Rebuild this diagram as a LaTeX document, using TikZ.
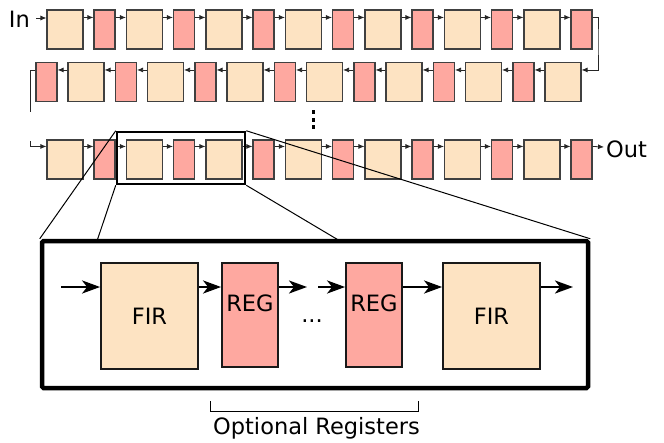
\documentclass[tikz,border=0pt]{standalone}
\usepackage{fontspec}
\setmainfont{DejaVu Sans}
\usetikzlibrary{arrows.meta}
\definecolor{firc}{HTML}{FDE3C2}
\definecolor{regc}{HTML}{FEA8A0}
\tikzset{
  fsmall/.style={draw=black!75, line width=1.1pt, fill=firc, minimum width=36pt, minimum height=39pt, inner sep=0pt},
  rsmall/.style={draw=black!75, line width=1.1pt, fill=regc, minimum width=21pt, minimum height=39pt, inner sep=0pt},
  sarr/.style={-{Latex[length=6pt,width=5pt]}, line width=0.8pt, black!85},
  sline/.style={line width=0.8pt, black!85},
  fbig/.style={draw=black!90, line width=1.8pt, fill=firc, minimum width=97pt, minimum height=106pt, inner sep=0pt},
  rbig/.style={draw=black!90, line width=1.8pt, fill=regc, minimum width=56pt, minimum height=104pt, inner sep=0pt},
  barr/.style={-{Stealth[length=18pt,width=13pt,inset=5pt]}, line width=2.5pt},
  txt/.style={font=\fontsize{22.5pt}{26pt}\selectfont, inner sep=0pt},
  zline/.style={line width=1pt},
}
\begin{document}
\begin{tikzpicture}[x=1pt,y=-1pt]
\useasboundingbox (0,0) rectangle (664,442);
\foreach \i in {1,...,7} {
  \node[fsmall] (r1f\i) at ({65+79.5*(\i-1)},29.5) {};
  \node[rsmall] (r1r\i) at ({104.5+79.5*(\i-1)},29.5) {};
  \node[fsmall] (r3f\i) at ({65+79.5*(\i-1)},159.5) {};
  \node[rsmall] (r3r\i) at ({104.5+79.5*(\i-1)},159.5) {};
  \node[fsmall] (r2f\i) at ({563-79.5*(\i-1)},82) {};
  \node[rsmall] (r2r\i) at ({523.5-79.5*(\i-1)},82) {};
}
\foreach \i in {1,...,7} {
  \draw[sarr] ([yshift=-8pt]r1f\i.north east) -- ([yshift=-8pt]r1r\i.north west);
  \draw[sarr] ([yshift=-7pt]r3f\i.north east) -- ([yshift=-7pt]r3r\i.north west);
  \draw[sarr] ([yshift=-8pt]r2f\i.north west) -- ([yshift=-8pt]r2r\i.north east);
}
\foreach \i in {1,...,6} {
  \pgfmathtruncatemacro\j{\i+1}
  \draw[sarr] ([yshift=-8pt]r1r\i.north east) -- ([yshift=-8pt]r1f\j.north west);
  \draw[sarr] ([yshift=-7pt]r3r\i.north east) -- ([yshift=-7pt]r3f\j.north west);
  \draw[sarr] ([yshift=-8pt]r2r\i.north west) -- ([yshift=-8pt]r2f\j.north east);
}
% In / Out
\node[txt, anchor=base east] (in) at (30,27) {In};
\coordinate (ins) at (36,18);
\draw[sarr] (ins) -- (ins -| r1f1.west);
\node[txt, anchor=base west] (out) at (606,157) {Out};
\coordinate (oute) at (604,147);
\draw[sarr] ([yshift=-7pt]r3r7.north east) -- (oute);
% wraps
\coordinate (c1) at (598,40);
\draw[sarr] ([yshift=-8pt]r1r7.north east) -| (c1) |- ([yshift=-8pt]r2f1.north east);
\coordinate (e2) at (30,112);
\draw[sline] ([yshift=-8pt]r2r7.north west) -| (e2);
\coordinate (s3) at (30,141);
\draw[sarr] (s3) |- ([yshift=-7pt]r3f1.north west);
% vertical dots
\foreach \y in {110,117.5,125} \fill (311.5,\y) rectangle ++(3.8,4.2);
% highlight box
\node[draw, line width=2.5pt, minimum width=128pt, minimum height=52pt, inner sep=0pt] (hl) at (181,158) {};
% big box
\node[draw, line width=4.5pt, rounded corners=1.5pt, minimum width=546pt, minimum height=147pt, inner sep=0pt, fill=white] (bb) at (315,314.5) {};
\coordinate (zb1) at (97,241);
\coordinate (zb2) at (340,241);
\draw[zline] (hl.north west) -- (bb.north west);
\draw[zline] (hl.south west) -- (zb1);
\draw[zline] (hl.south east) -- (zb2);
\draw[zline] (hl.north east) -- (bb.north east);
% inner chain
\node[fbig] (bf1) at (149.5,316) {};
\node[txt] at (bf1.center) {FIR};
\node[rbig] (br1) at (250,315) {};
\node[txt] at (250,303) {REG};
\node[rbig] (br2) at (374,315) {};
\node[txt] at (374,303) {REG};
\node[fbig] (bf2) at (491.5,316) {};
\node[txt] at (bf2.center) {FIR};
\node[txt, anchor=base] (dots) at (312,322) {...};
\coordinate (a0) at (61,287);
\coordinate (a1) at (307,287);
\coordinate (a2) at (318,287);
\coordinate (a3) at (573,287);
\draw[barr] (a0) -- (a0 -| bf1.west);
\draw[barr] (a0 -| bf1.east) -- (a0 -| br1.west);
\draw[barr] (a0 -| br1.east) -- (a1);
\draw[barr] (a2) -- (a2 -| br2.west);
\draw[barr] (a0 -| br2.east) -- (a0 -| bf2.west);
\draw[barr] (a0 -| bf2.east) -- (a3);
% bracket
\node[txt, anchor=base] (opt) at (316.5,434) {Optional Registers};
\coordinate (k1) at (210,401);
\coordinate (k2) at (418,401);
\draw[line width=1pt] (k1) -- ++(0,10.5) -| (k2);
\end{tikzpicture}
\end{document}
